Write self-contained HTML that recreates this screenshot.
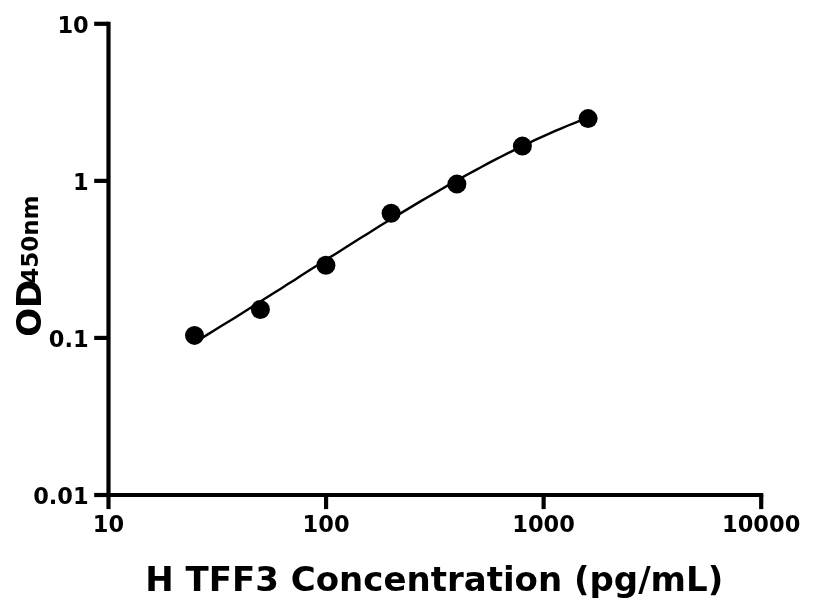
<!DOCTYPE html>
<html><head><meta charset="utf-8"><title>H TFF3 Concentration</title>
<style>
html,body{margin:0;padding:0;background:#fff;}
svg{display:block;}
text{font-family:"DejaVu Sans","Liberation Sans",sans-serif;font-weight:bold;fill:#000;}
</style></head>
<body>
<svg width="816" height="612" viewBox="0 0 816 612">
<rect width="816" height="612" fill="#fff"/>
<g stroke="#000" stroke-width="4.2" fill="none" stroke-linecap="butt">
<line x1="108.5" y1="21.7" x2="108.5" y2="497.1"/>
<line x1="106.4" y1="495" x2="763.3" y2="495"/>
<line x1="108.5" y1="495" x2="108.5" y2="509.1"/>
<line x1="326.07" y1="495" x2="326.07" y2="509.1"/>
<line x1="543.63" y1="495" x2="543.63" y2="509.1"/>
<line x1="761.2" y1="495" x2="761.2" y2="509.1"/>
<line x1="94.2" y1="23.8" x2="108.5" y2="23.8"/>
<line x1="94.2" y1="180.87" x2="108.5" y2="180.87"/>
<line x1="94.2" y1="337.93" x2="108.5" y2="337.93"/>
<line x1="94.2" y1="495" x2="108.5" y2="495"/>
</g>
<path d="M194.5 342.5 L201.2 338.4 L207.8 334.4 L214.5 330.3 L221.2 326.1 L227.9 322.0 L234.5 317.9 L241.2 313.7 L247.9 309.5 L254.5 305.3 L261.2 301.1 L267.9 296.8 L274.6 292.6 L281.2 288.4 L287.9 284.1 L294.6 279.9 L301.2 275.6 L307.9 271.3 L314.6 267.1 L321.3 262.9 L327.9 258.6 L334.6 254.4 L341.3 250.2 L347.9 245.9 L354.6 241.7 L361.3 237.6 L368.0 233.4 L374.6 229.2 L381.3 225.1 L388.0 221.0 L394.6 216.9 L401.3 212.9 L408.0 208.9 L414.6 204.9 L421.3 200.9 L428.0 197.0 L434.7 193.1 L441.3 189.2 L448.0 185.4 L454.7 181.6 L461.3 177.9 L468.0 174.2 L474.7 170.6 L481.4 167.0 L488.0 163.4 L494.7 159.9 L501.4 156.5 L508.0 153.1 L514.7 149.8 L521.4 146.5 L528.1 143.3 L534.7 140.2 L541.4 137.1 L548.1 134.1 L554.7 131.2 L561.4 128.3 L568.1 125.5 L574.8 122.8 L581.4 120.1 L588.1 117.5" stroke="#000" stroke-width="2.4" fill="none" stroke-linejoin="round"/>
<g fill="#000">
<circle cx="194.5" cy="335.4" r="9.5"/>
<circle cx="260.4" cy="309.5" r="9.5"/>
<circle cx="325.9" cy="265.2" r="9.5"/>
<circle cx="391.1" cy="213.3" r="9.5"/>
<circle cx="456.9" cy="184.1" r="9.5"/>
<circle cx="522.4" cy="146.1" r="9.5"/>
<circle cx="588.1" cy="118.6" r="9.5"/>
</g>
<text x="108.5" y="531.8" text-anchor="middle" font-size="22.5">10</text>
<text x="326.07" y="531.8" text-anchor="middle" font-size="22.5">100</text>
<text x="543.63" y="531.8" text-anchor="middle" font-size="22.5">1000</text>
<text x="761.2" y="531.8" text-anchor="middle" font-size="22.5">10000</text>
<text x="88.7" y="32.7" text-anchor="end" font-size="22.5">10</text>
<text x="88.7" y="189.8" text-anchor="end" font-size="22.5">1</text>
<text x="88.7" y="346.8" text-anchor="end" font-size="22.5">0.1</text>
<text x="88.7" y="503.9" text-anchor="end" font-size="22.5">0.01</text>

<text x="434.25" y="591" text-anchor="middle" font-size="34">H TFF3 Concentration (pg/mL)</text>
<text transform="translate(40.6 336.8) rotate(-90)" font-size="34">OD<tspan font-size="23" dx="-4.2" dy="-2.7">450nm</tspan></text>
</svg>
</body></html>
